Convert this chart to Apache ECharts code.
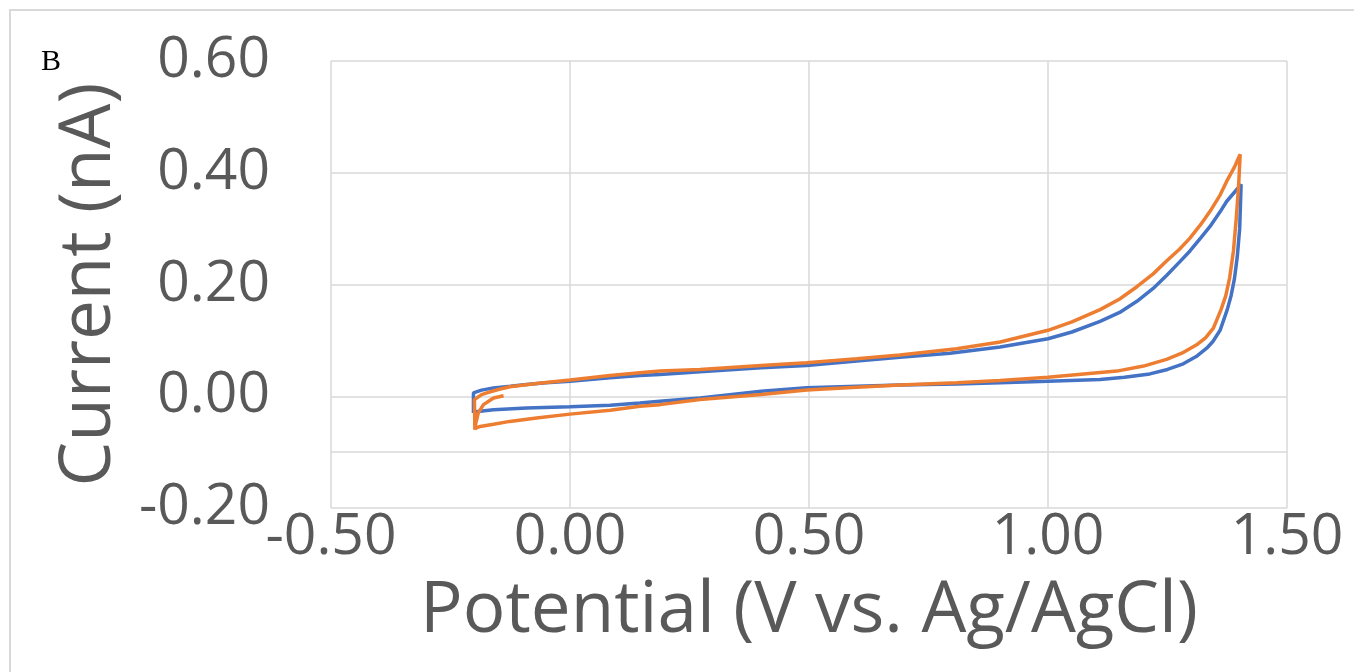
<!DOCTYPE html>
<html>
<head>
<meta charset="utf-8">
<script src="https://cdn.jsdelivr.net/npm/echarts@6/dist/echarts.min.js"></script>
<style>
html,body{margin:0;padding:0;background:#fff;}
#chart{width:1354px;height:672px;}
</style>
</head>
<body>
<div id="chart"></div>
<script>
// Series 1 (blue) – potential (V) and current (nA), traced around the loop
const bluePotential = [-0.202,-0.202,-0.185,-0.160,-0.125,-0.091,-0.050,0.000,0.084,0.146,0.188,0.272,0.400,0.495,0.600,0.690,0.795,0.900,1.000,1.050,1.109,1.150,1.186,1.220,1.248,1.275,1.297,1.320,1.339,1.360,1.374,1.395,1.404,
  1.401,1.396,1.390,1.383,1.375,1.360,1.345,1.332,1.310,1.283,1.250,1.213,1.160,1.109,1.000,0.900,0.809,0.690,0.600,0.495,0.400,0.272,0.188,0.146,0.084,0.000,-0.091,-0.160,-0.202];
const blueCurrent = [-0.030,0.006,0.011,0.015,0.018,0.021,0.024,0.027,0.033,0.037,0.039,0.044,0.051,0.055,0.063,0.070,0.077,0.088,0.103,0.115,0.134,0.150,0.170,0.193,0.216,0.240,0.260,0.284,0.304,0.330,0.349,0.370,0.379,
  0.300,0.250,0.210,0.180,0.155,0.118,0.098,0.086,0.071,0.058,0.048,0.040,0.034,0.030,0.027,0.024,0.022,0.020,0.018,0.015,0.009,-0.003,-0.009,-0.012,-0.016,-0.019,-0.021,-0.024,-0.028];

// Series 2 (orange)
const orangePotential = [-0.139,-0.160,-0.181,-0.192,-0.197,-0.199,-0.200,-0.185,-0.174,-0.150,-0.126,-0.070,0.000,0.084,0.146,0.188,0.272,0.400,0.495,0.600,0.690,0.809,0.900,1.000,1.050,1.109,1.150,1.186,1.220,1.248,1.275,1.297,1.320,1.339,1.360,1.374,1.390,1.402,
  1.399,1.394,1.388,1.380,1.372,1.362,1.346,1.330,1.311,1.280,1.248,1.200,1.144,1.000,0.900,0.809,0.690,0.600,0.495,0.400,0.272,0.188,0.146,0.084,0.000,-0.070,-0.126,-0.160,-0.188,-0.199];
const orangeCurrent = [0.001,-0.003,-0.015,-0.030,-0.048,-0.060,-0.006,0.003,0.006,0.012,0.017,0.023,0.029,0.037,0.042,0.045,0.048,0.055,0.060,0.067,0.074,0.085,0.097,0.118,0.133,0.155,0.174,0.196,0.219,0.242,0.263,0.283,0.308,0.331,0.360,0.385,0.410,0.433,
  0.380,0.320,0.260,0.212,0.180,0.155,0.122,0.105,0.092,0.077,0.066,0.054,0.045,0.034,0.028,0.024,0.020,0.016,0.011,0.003,-0.006,-0.015,-0.018,-0.025,-0.032,-0.039,-0.045,-0.050,-0.054,-0.058];

const xAxisTitle = 'Potential (V vs. Ag/AgCl)';
const yAxisTitle = 'Current (nA)';
const panelLabel = 'B';
const crossValue = -0.1; // horizontal axis crossing line

function pairs(xs, ys){ return xs.map((x,i)=>[x, ys[i]]); }

const labelColor = '#595959';
const gridColor = '#d9d9d9';
const font = 'Open Sans';

const chart = echarts.init(document.getElementById('chart'), null, {renderer:'canvas'});
chart.setOption({
  animation:false,
  backgroundColor:'#fff',
  grid:{left:331, right:67, top:61, bottom:164, containLabel:false},
  xAxis:{
    type:'value', min:-0.5, max:1.5, interval:0.5,
    name:xAxisTitle, nameLocation:'middle', nameGap:68,
    nameTextStyle:{fontFamily:font, fontSize:71, color:labelColor},
    axisLine:{show:false}, axisTick:{show:false},
    axisLabel:{fontFamily:font, fontSize:57, color:labelColor, margin:1, formatter:v=>v.toFixed(2)},
    splitLine:{show:true, lineStyle:{color:gridColor, width:1.5}}
  },
  yAxis:{
    type:'value', min:-0.2, max:0.6, interval:0.2,
    name:yAxisTitle, nameLocation:'middle', nameGap:206, nameRotate:90,
    nameTextStyle:{fontFamily:font, fontSize:71, color:labelColor},
    axisLine:{show:false}, axisTick:{show:false},
    axisLabel:{fontFamily:font, fontSize:57, color:labelColor, margin:61, formatter:v=>v.toFixed(2)},
    splitLine:{show:true, lineStyle:{color:gridColor, width:1.5}}
  },
  graphic:[
    {type:'rect', shape:{x:10, y:10, width:1400, height:700}, style:{fill:'none', stroke:gridColor, lineWidth:2}, silent:true},
    {type:'text', left:41, top:47, style:{text:panelLabel, font:'30px "Liberation Serif"', fill:'#000'}}
  ],
  series:[
    {type:'line', data:[], markLine:{silent:true, symbol:'none', label:{show:false},
      lineStyle:{color:gridColor, type:'solid', width:1.5}, data:[{yAxis:crossValue}]}},
    {type:'line', name:'Blue', data:pairs(bluePotential, blueCurrent), showSymbol:false,
      lineStyle:{color:'#4472C4', width:3.5}, itemStyle:{color:'#4472C4'}},
    {type:'line', name:'Orange', data:pairs(orangePotential, orangeCurrent), showSymbol:false,
      lineStyle:{color:'#ED7D31', width:3.5}, itemStyle:{color:'#ED7D31'}}
  ]
});
</script>
</body>
</html>
